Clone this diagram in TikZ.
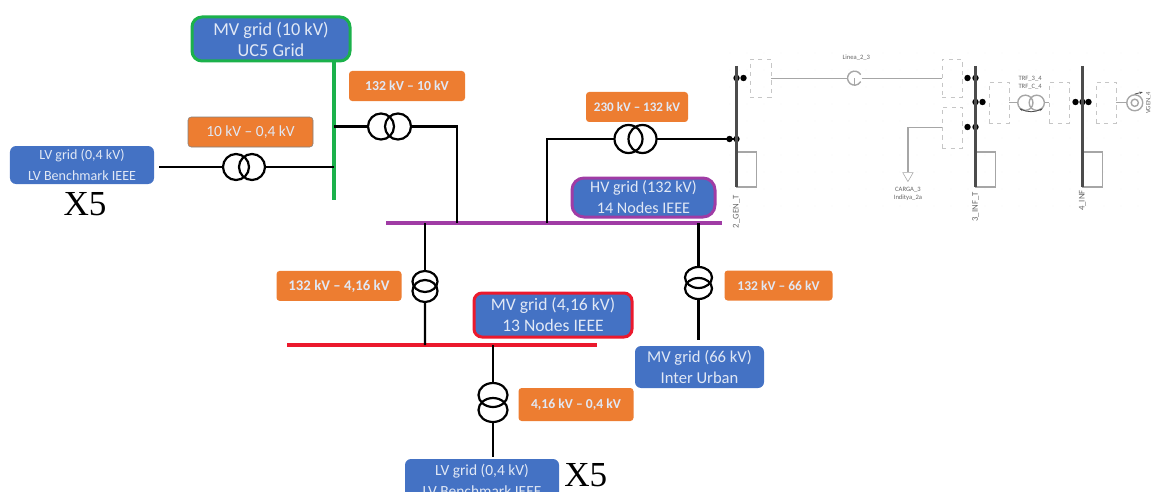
\documentclass[tikz,border=0pt]{standalone}
\usepackage{fontspec}
\setmainfont{Carlito}
\newfontfamily\countfont{Liberation Serif}
\usetikzlibrary{arrows.meta, positioning, shapes.geometric}
\definecolor{GridBlue}{RGB}{68, 114, 196}
\definecolor{TapOrange}{RGB}{237, 125, 49}
\definecolor{BusGreen}{RGB}{27, 177, 75}
\definecolor{BusPurple}{RGB}{160, 60, 165}
\definecolor{BusRed}{RGB}{235, 25, 45}
\definecolor{LabelWhite}{RGB}{225, 232, 245}

\begin{document}
\begin{tikzpicture}[
            grid/.style={fill=GridBlue, text=LabelWhite, rounded corners=0.15cm, align=center, inner sep=0pt, outer sep=0pt, font=\fontsize{10}{14.5}\selectfont},
            gridlg/.style={grid, font=\fontsize{12.5}{15}\selectfont, minimum width=3.95cm, minimum height=1.1cm},
            tap/.style={fill=TapOrange, text=LabelWhite, rounded corners=0.08cm, inner sep=0pt, outer sep=0pt, font=\fontsize{10}{12}\selectfont\bfseries, minimum height=0.75cm},
            wire/.style={draw=black, line width=0.055cm},
            bar/.style={line width=0.1cm},
            wind/.style={wire, circle, inner sep=0pt, outer sep=0pt, minimum size=0.65cm},
            windv/.style={wire, ellipse, inner sep=0pt, outer sep=0pt, minimum width=0.675cm, minimum height=0.55cm},
            count/.style={inner sep=0pt, font=\countfont\fontsize{25}{25}\selectfont},
            slot/.style={draw=gray!45, dashed, inner sep=0pt, minimum width=0.5cm, minimum height=1.025cm},
            res/.style={draw=gray!70, line width=0.03cm, inner sep=0pt, outer sep=0pt, minimum width=0.5cm, minimum height=0.875cm},
            pale/.style={draw=gray!70, line width=0.035cm},
            pbus/.style={draw=gray!60!black, line width=0.06cm},
            pdot/.style={circle, fill=black, inner sep=0pt, minimum size=0.16cm},
            tiny/.style={text=gray!80!black, inner sep=0pt, align=center, font=\fontsize{4.7}{5.4}\selectfont},
            busname/.style={tiny, rotate=90, anchor=east, font=\fontsize{6.2}{7}\selectfont}
        ]
            \useasboundingbox (0,0) rectangle (28.775,-12.3);
            \foreach \xx in {0,...,24} \foreach \yy in {0,...,9}
                \fill[gray!22] (18.25+\xx*0.425,-1.325-\yy*0.425) circle (0.012cm);

            \coordinate (hvwest) at (9.65,-5.575);
            \coordinate[right=8.4cm of hvwest] (hveast);
            \coordinate[right=0.975cm of hvwest] (tapone);
            \coordinate[right=1.775cm of hvwest] (taptwo);
            \coordinate[right=4.025cm of hvwest] (tapthree);
            \coordinate[right=7.8125cm of hvwest] (tapfour);
            \node[gridlg, font=\fontsize{11.5}{15}\selectfont, draw=BusPurple, line width=0.075cm, rounded corners=0.3cm, minimum width=3.575cm, minimum height=0.975cm, above right=0.15cm and 4.65cm of hvwest] (hvgrid) {HV grid (132 kV)\\14 Nodes IEEE};

            \coordinate[above left=0.575cm and 1.3cm of hvwest] (gnbot);
            \coordinate[above=3.475cm of gnbot] (gntop);
            \coordinate[above=0.825cm of gnbot] (gntapone);
            \coordinate[above=1.8375cm of gnbot] (gntaptwo);
            \node[gridlg, font=\fontsize{13}{15}\selectfont, draw=BusGreen, line width=0.075cm, rounded corners=0.25cm, above left=0cm and -0.4cm of gntop] (mvten) {MV grid (10 kV)\\UC5 Grid};

            \node[wind, left=1.725cm of gntapone] (lvtrb) {};
            \node[wind, left=-0.25cm of lvtrb] (lvtra) {};
            \coordinate[left=1.6cm of lvtra] (lvend);
            \node[grid, minimum width=3.6cm, minimum height=0.95cm, left=0.125cm of lvend, yshift=0.05cm] (lvgrid) {LV grid (0,4 kV)\\LV Benchmark IEEE};
            \node[count, below=0.2cm of lvgrid, xshift=0.075cm] (lvcount) {X5};
            \node[tap, draw=gray, font=\fontsize{11}{12}\selectfont, minimum width=3.125cm, above=0.175cm of lvtra, xshift=0.3625cm] (taplv) {10 kV – 0,4 kV};

            \node[wind, right=0.85cm of gntaptwo] (mvtra) {};
            \node[wind, right=-0.225cm of mvtra] (mvtrb) {};
            \node[tap, font=\fontsize{9.8}{12}\selectfont\bfseries, minimum width=2.9cm, above=0.3125cm of mvtrb, xshift=0.225cm] (tapmv) {132 kV – 10 kV};

            \coordinate[above=2.1cm of tapthree] (hvcorner);
            \node[wind, minimum size=0.7cm, right=1.6875cm of hvcorner] (hvtra) {};
            \node[wind, minimum size=0.7cm, right=-0.35cm of hvtra] (hvtrb) {};
            \node[tap, font=\fontsize{9.3}{12}\selectfont\bfseries, minimum width=2.55cm, above=0.075cm of hvtra, xshift=0.2125cm] (taphv) {230 kV – 132 kV};
            \coordinate[right=1.95cm of hvtrb] (genend);

            \coordinate[below left=3.05cm and 2.475cm of hvwest] (rswest);
            \coordinate[right=7.75cm of rswest] (rseast);
            \coordinate[right=3.45cm of rswest] (rstapone);
            \coordinate[right=5.15cm of rswest] (rstaptwo);
            \node[gridlg, draw=BusRed, line width=0.075cm, rounded corners=0.2cm, minimum width=3.95cm, above right=0.2cm and 4.675cm of rswest] (mvfour) {MV grid (4,16 kV)\\13 Nodes IEEE};

            \node[windv, minimum width=0.625cm, minimum height=0.525cm, below=1.2cm of tapone] (fourtra) {};
            \node[windv, minimum width=0.625cm, minimum height=0.55cm, below=-0.3cm of fourtra] (fourtrb) {};
            \node[tap, font=\fontsize{10.5}{12}\selectfont\bfseries, minimum width=3.125cm, left=0.275cm of fourtra, yshift=-0.11cm] (tapfourkv) {132 kV – 4,16 kV};

            \node[windv, minimum height=0.525cm, below=1.1cm of tapfour] (urbtra) {};
            \node[windv, minimum height=0.525cm, below=-0.25cm of urbtra] (urbtrb) {};
            \coordinate[below=1.025cm of urbtrb] (urbend);
            \node[grid, font=\fontsize{11.8}{15}\selectfont, minimum width=3.225cm, minimum height=1.05cm, below=0.15cm of urbend, xshift=0.025cm] (urbgrid) {MV grid (66 kV)\\Inter Urban};
            \node[tap, font=\fontsize{9.6}{12}\selectfont\bfseries, minimum width=2.7cm, right=0.3125cm of urbtra, yshift=-0.2cm] (tapurb) {132 kV – 66 kV};

            \node[windv, minimum width=0.725cm, minimum height=0.6cm, below=0.95cm of rstaptwo] (lowtra) {};
            \node[windv, minimum width=0.725cm, minimum height=0.6cm, below=-0.225cm of lowtra] (lowtrb) {};
            \coordinate[below=0.875cm of lowtrb] (lowend);
            \node[grid, font=\fontsize{11}{15}\selectfont, minimum width=3.85cm, minimum height=1.05cm, below=0.05cm of lowend, xshift=-0.275cm] (lowgrid) {LV grid (0,4 kV)\\LV Benchmark IEEE};
            \node[count, below right=0.1cm and 0.125cm of lowgrid.north east] (lowcount) {X5};
            \node[tap, font=\fontsize{9.7}{12}\selectfont\bfseries, minimum width=2.875cm, minimum height=0.825cm, right=0.275cm of lowtra, yshift=-0.2375cm] (taplow) {4,16 kV – 0,4 kV};

            \coordinate[above right=1.825cm and 0.05cm of genend] (nbtwo);
            \coordinate[below=3.025cm of nbtwo] (nbtwos);
            \coordinate[right=5.975cm of nbtwo] (nbthree);
            \coordinate[below=3.025cm of nbthree] (nbthrees);
            \coordinate[right=2.675cm of nbthree] (nbfour);
            \coordinate[below=3.025cm of nbfour] (nbfours);

            \node[res, below right=2.15cm and 0cm of nbtwo] (restwo) {};
            \node[res, below right=2.15cm and 0cm of nbthree] (resthree) {};
            \node[res, below right=2.15cm and 0cm of nbfour] (resfour) {};
            \node[busname, below=0.2cm of nbtwos, anchor=east] (nametwo) {2\_GEN\_T};
            \node[busname, below=0.125cm of nbthrees, anchor=east] (namethree) {3\_INF\_T};
            \node[busname, below=0.075cm of nbfours, anchor=east] (namefour) {4\_INF};

            \node[slot, minimum width=0.525cm, minimum height=0.95cm, below right=-0.175cm and 0.325cm of nbtwo] (slota) {};
            \node[slot, minimum height=0.95cm, below left=-0.175cm and 0.325cm of nbthree] (slotb) {};
            \node[slot, below=0.225cm of slotb] (slotc) {};
            \node[slot, below right=0.4cm and 0.325cm of nbthree] (slotd) {};
            \node[slot, below left=0.4cm and 0.325cm of nbfour] (slote) {};
            \node[slot, below right=0.4cm and 0.325cm of nbfour] (slotf) {};

            \node[circle, inner sep=0pt, minimum size=0.35cm, right=1.9cm of slota] (linesym) {};
            \node[tiny, above=0.27cm of linesym, xshift=0.05cm] (linename) {Linea\_2\_3};
            \coordinate[left=0.85cm of slotc] (loadcorner);
            \node[regular polygon, regular polygon sides=3, shape border rotate=180, draw=gray!70, inner sep=0pt, minimum size=0.3cm, below=1.125cm of loadcorner] (loadtri) {};
            \node[tiny, below=0.12cm of loadtri] (loadname) {CARGA\_3\\Inditya\_2a};
            \node[pale, circle, inner sep=0pt, minimum size=0.38cm, right=0.2cm of slotd] (ptra) {};
            \node[pale, circle, inner sep=0pt, minimum size=0.38cm, right=-0.13cm of ptra] (ptrb) {};
            \node[tiny, above=0.12cm of ptra, xshift=0.12cm] (ptrname) {TRF\_3\_4\\TRF\_C\_4};
            \node[pale, circle, inner sep=0pt, minimum size=0.4cm, right=0.25cm of slotf] (pgen) {};
            \node[pale, circle, inner sep=0pt, minimum size=0.18cm, at=(pgen.center)] (pgenin) {};
            \coordinate[above right=0.05cm and 0.2cm of pgen.north] (pgentip);
            \node[tiny, rotate=90, right=0.06cm of pgen, anchor=north] (pgenname) {VGEN\_4};

            \foreach \dotname/\dotbase/\dotx/\doty in {a/nbtwo/0/-0.3, b/nbtwo/0.175/-0.3, c/nbtwo/-0.175/-1.825, d/nbtwo/0/-1.825, e/nbthree/-0.2/-0.3, f/nbthree/0/-0.3, g/nbthree/-0.2/-1.525, h/nbthree/0/-1.525, i/nbthree/0/-0.9, j/nbthree/0.175/-0.9, k/nbfour/-0.175/-0.9, l/nbfour/0/-0.9, m/nbfour/0.15/-0.9}
                \node[pdot] (pdot\dotname) at ([shift={(\dotx,\doty)}]\dotbase) {};

            \draw[bar, BusPurple] (hvwest) -- (hveast);
            \draw[bar, BusGreen] (gntop) -- (gnbot);
            \draw[bar, BusRed] (rswest) -- (rseast);

            \draw[wire] (lvend) -- (lvtra);
            \draw[wire] (lvtrb) -- (gntapone);
            \draw[wire] (gntaptwo) -- (mvtra);
            \draw[wire] (mvtrb) -| (taptwo);
            \draw[wire] (tapthree) -- (hvcorner) -- (hvtra);
            \draw[wire] (hvtrb) -- (genend);
            \draw[wire] (tapone) -- (fourtra);
            \draw[wire] (fourtrb) -- (rstapone);
            \draw[wire] (tapfour) -- (urbtra);
            \draw[wire] (urbtrb) -- (urbend);
            \draw[wire] (rstaptwo) -- (lowtra);
            \draw[wire] (lowtrb) -- (lowend);

            \draw[pbus] (nbtwo) -- (nbtwos);
            \draw[pbus] (nbthree) -- (nbthrees);
            \draw[pbus] (nbfour) -- (nbfours);
            \draw[pale] (slota) -- (linesym);
            \draw[pale] (linesym) -- (slotb);
            \draw[pale] (linesym.30) arc[start angle=30, end angle=330, radius=0.175cm];
            \draw[pale] (linesym.center) -- (linesym.south);
            \draw[pale] (slotc) -- (loadcorner) -- (loadtri);
            \draw[pale] (slotd) -- (ptra);
            \draw[pale] (ptrb) -- (slote);
            \draw[pale] (slotf) -- (pgen);
            \draw[-{Stealth[length=0.08cm]}, gray!60!black, line width=0.02cm] (pgen.north) -- (pgentip);
            \draw[{Stealth[length=0.08cm]}-{Stealth[length=0.08cm]}, gray!60!black, line width=0.02cm] (ptra.south west) to[bend right=25] (ptrb.south east);
        \end{tikzpicture}
\end{document}
